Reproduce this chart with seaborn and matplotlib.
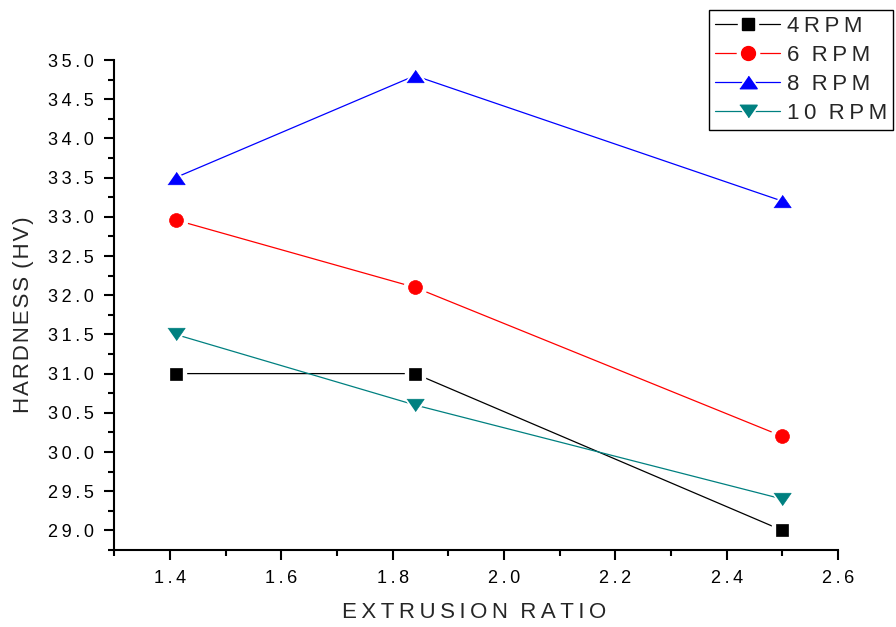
import matplotlib
matplotlib.use("Agg")
import matplotlib.pyplot as plt
from matplotlib.lines import Line2D
from matplotlib.ticker import MultipleLocator, FuncFormatter
import seaborn as sns
import pandas as pd

# ---- data ----
extrusion_ratio = [1.41, 1.84, 2.50]
rpm_4 = [31.0, 31.0, 29.0]
rpm_6 = [32.96, 32.1, 30.2]
rpm_8 = [33.5, 34.8, 33.2]
rpm_10 = [31.5, 30.6, 29.4]
series_names = ["4RPM", "6 RPM", "8 RPM", "10 RPM"]
x_ticks = [1.4, 1.6, 1.8, 2.0, 2.2, 2.4, 2.6]
x_title = "EXTRUSION RATIO"
y_title = "HARDNESS (HV)"

TS = "\u2009"
HS = "\u200a"


def spaced(s, sep=TS):
    # Origin-style letter spacing
    return sep.join(s)


sns.set_style("ticks")
plt.rcParams['font.family'] = ['Liberation Sans', 'DejaVu Sans']

fig = plt.figure(figsize=(8.96, 6.27), dpi=100)
ax = fig.add_axes([114.3 / 896, 77 / 627, (838 - 114.3) / 896, 490 / 627])

tri_up = [(-1, -0.72), (1, -0.72), (0, 0.72)]
tri_dn = [(-1, 0.72), (1, 0.72), (0, -0.72)]
styles = [
    dict(color="black", marker="s", ms=8.5),
    dict(color="#ff0000", marker="o", ms=10),
    dict(color="#0000ff", marker=tri_up, ms=12.5),
    dict(color="#008080", marker=tri_dn, ms=12.5),
]
values = [rpm_4, rpm_6, rpm_8, rpm_10]

handles = []
for name, yv, st in zip(series_names, values, styles):
    df = pd.DataFrame({"x": extrusion_ratio, "y": yv})
    sns.lineplot(data=df, x="x", y="y", ax=ax, color=st["color"], lw=0.9,
                 zorder=2, legend=False)
    # white halo so line stops short of the marker
    ax.plot(df["x"], df["y"], ls="none", marker=st["marker"], ms=st["ms"] + 6,
            mfc="white", mec="white", zorder=3)
    ax.plot(df["x"], df["y"], ls="none", marker=st["marker"], ms=st["ms"],
            mfc=st["color"], mec=st["color"], mew=0.5, zorder=4)
    h_line = Line2D([], [], color=st["color"], lw=0.9)
    h_halo = Line2D([], [], ls="none", marker=st["marker"], ms=st["ms"] + 6,
                    mfc="white", mec="white")
    h_mark = Line2D([], [], ls="none", marker=st["marker"], ms=st["ms"],
                    mfc=st["color"], mec=st["color"])
    handles.append((h_line, h_halo, h_mark))

ax.set_xlim(1.3, 2.6)
ax.set_ylim(28.75, 35.0)
ax.set_xticks(x_ticks)
ax.xaxis.set_minor_locator(MultipleLocator(0.1))
ax.yaxis.set_major_locator(MultipleLocator(0.5))
ax.yaxis.set_minor_locator(MultipleLocator(0.25))
fmt = FuncFormatter(lambda v, p: spaced(f"{v:.1f}"))
ax.xaxis.set_major_formatter(fmt)
ax.yaxis.set_major_formatter(fmt)

for s in ["top", "right"]:
    ax.spines[s].set_visible(False)
for s in ["left", "bottom"]:
    ax.spines[s].set_linewidth(1.5)
    ax.spines[s].set_color("black")

ax.tick_params(which="major", direction="out", length=7.5, width=1.5,
               labelsize=13, pad=7, colors="black")
ax.tick_params(which="minor", direction="out", length=4, width=1.5,
               colors="black")

words = x_title.split(" ")
ax.set_xlabel("  ".join(spaced(w) for w in words), fontsize=16)
words = y_title.split(" ")
ax.set_ylabel((" " + HS).join(spaced(w, HS) for w in words), fontsize=16)
ax.xaxis.set_label_coords(0.497, -0.127)
ax.xaxis.label.set_va("center")
ax.yaxis.set_label_coords(-0.126, 0.48)
ax.yaxis.label.set_va("center")

labels = ["  ".join(spaced(w) for w in n.split(" ")) for n in series_names]
leg = fig.legend(handles, labels, loc="upper right",
                 bbox_to_anchor=(893 / 896, 1 - 10 / 627),
                 fontsize=16, frameon=True, fancybox=False, framealpha=1,
                 edgecolor="black", handlelength=2.9, handletextpad=0.3,
                 labelspacing=0.36, borderpad=0.28, borderaxespad=0)
leg.get_frame().set_linewidth(1.0)

fig.savefig("out.png", dpi=100)
